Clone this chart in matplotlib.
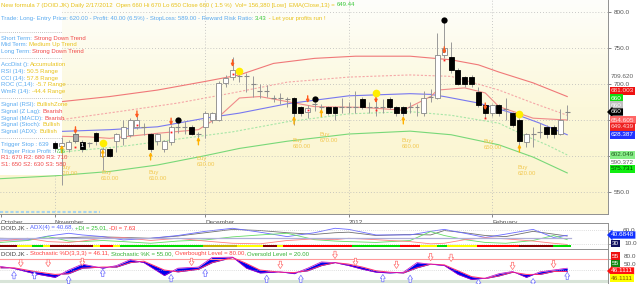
import numpy as np
import matplotlib
matplotlib.use('Agg')
import matplotlib.pyplot as plt
from matplotlib.patches import Rectangle
from matplotlib.colors import LinearSegmentedColormap
from matplotlib.font_manager import FontProperties

plt.rcParams['font.family'] = ['Liberation Sans', 'DejaVu Sans']

# ---------------- data ----------------
opens  = [618,614,609,620,619,618,631,600,609,620, 625,629,640,640,630,620,609,619,640,640,
          640,630,640,650,650,701,709,710,710,700, 690,690,680,680,678,680,667,660,672,667,
          667,667,667,667,667,679,667,667,667,679, 667,667,667,667,659,682,680,740,737,719,
          709,709,688,670,659,670,665,659,650,619, 630,633,640,640,630,660]
highs  = [621,626,622,633,622,619,633,612,611,632, 650,652,655,645,632,632,622,642,645,648,
          642,633,662,661,703,712,737,719,715,710, 700,698,684,687,682,682,669,670,675,672,
          669,669,680,675,690,681,675,680,678,681, 669,669,675,672,690,692,770,790,758,722,
          711,712,695,672,672,672,680,661,652,632, 640,645,642,642,665,670]
lows   = [605,559,605,617,605,612,615,580,598,605, 615,626,637,628,605,615,605,615,632,630,
          628,620,625,645,648,695,705,702,689,682, 680,682,675,672,668,642,655,652,662,655,
          657,650,659,659,659,665,659,655,659,665, 655,655,659,655,655,675,678,735,715,698,
          695,695,668,652,655,655,650,640,612,612, 612,625,625,625,628,650]
closes = [610,618,619,630,609,618,620,609,600,630, 640,650,650,640,609,630,620,640,640,640,
          630,630,659,659,701,708,719,710,710,700, 690,690,680,680,678,659,659,666,672,667,
          659,659,667,667,667,668,667,667,667,668, 659,659,667,667,680,682,740,750,719,700,
          700,700,670,659,670,659,665,642,620,630, 630,633,630,630,650,660]
candle_tags = {4: '1', 57: '3'}

month_pos = [-7.9, 0, 22, 43, 64]
month_labels = ['October', 'November', 'December', '2012', 'February']

red_outer_idx = [-8, 0, 8, 15, 22, 27, 32, 38, 44, 52, 58, 62, 65, 70, 75]
red_outer_val = [670, 674, 682, 691, 703, 712, 728, 735, 738, 738, 733, 726, 716, 701, 682]
red_inner_idx = [-8, 1, 10, 18, 26, 34, 43, 52, 58, 65, 70, 75]
red_inner_val = [648, 650, 662, 673, 687, 702, 709, 712, 710, 691, 673, 656]
green_inner_idx = [-8, 1, 10, 18, 26, 34, 43, 52, 58, 65, 69, 72, 75]
green_inner_val = [598, 605, 613, 623, 633, 647, 658, 661, 656, 645, 627, 615, 601]
green_outer_idx = [-8, 0, 8, 15, 22, 27, 34, 43, 52, 58, 65, 70, 75]
green_outer_val = [568, 572, 578, 587, 600, 610, 620, 630, 634, 629, 615, 598, 576]
mid_idx = [-1, 8, 15, 22, 27, 34, 43, 52, 55, 57, 62, 67, 71, 75]
mid_val = [633, 636, 640, 652, 659, 672, 683, 686, 685, 682, 673, 659, 645, 629]
ema_idx = [0, 5, 8, 15, 21, 24, 27, 30, 34, 38, 45, 51, 55, 56, 60, 63, 65, 70, 75]
ema_val = [627, 626, 624, 631, 636, 654, 680, 682, 675, 668, 667, 663, 682, 691, 694, 687, 668, 652, 649.44]

buy_idx = [1, 7, 14, 21, 35, 39, 51, 63, 68]
buy_price = ['620.00', '610.00', '610.00', '630.00', '660.00', '670.00', '660.00', '650.00', '620.00']
buy_y = [579, 573, 573, 592, 617, 625, 617, 615, 580]
up_arrow_idx = [1, 7, 14, 21, 35, 39, 51, 68]
up_arrow_tip = [615, 609, 605, 626, 655, 665, 655, 616]
dn_arrow_idx = [3, 12, 17, 26, 37, 47, 57, 63]
dn_arrow_top = [640, 662, 652, 733, 683, 683, 751, 673]
red_dot_price = [612, 643, 633, 713, 663, 663, 733, 652]
black_dot_idx = [18, 38, 57]
black_dot_price = [649, 679, 788]
yellow_dot_idx = [7, 27, 47, 68]
yellow_dot_price = [617, 718, 687, 658]

adx_idx = [-8,-4,-1,2,4,7,10,14,18,22,26,30,34,38,41,43,47,52,55,57,60,63,66,70,73,75]
adx_val = [24,24,38,48,42,36,24,30,40,55,66,52,36,50,66,62,42,42,55,62,48,33,45,62,33,40.68]
adx_gray = [30,28,30,32,34,35,33,30,38,50,62,58,50,44,50,52,40,44,42,58,50,40,36,55,45,38]
pdi_val = [15,22,36,20,18,22,18,12,20,24,35,42,48,25,20,18,15,22,54,40,25,15,12,22,40,25.01]
mdi_val = [20,30,18,15,20,30,33,22,30,20,12,10,22,28,25,30,25,18,10,12,25,32,28,20,12,7.63]
bar_edges = [-8,-5.6,-3.4,-1.8,-0.7,5.6,6.6,8.5,9.5,21.7,26.6,30.5,32.5,33.4,43.5,50.5,53.4,55.9,57.4,61.8,68,72.9,75.5]
bar_codes = ['dr','y','g','y','dr','y','r','y','g','o','y','dr','y','r','g','r','y','g','y','r','dr','g']

st_idx = [-8,-6,-3,0,2,4,7,9,11,13,16,18,21,23,26,28,30,33,35,37,39,41,43,45,47,49,51,53,55,57,59,61,63,65,67,69,71,73,75]
st_k = [60,54,40,30,50,66,55,62,78,70,35,55,58,84,85,55,42,45,40,55,72,70,62,52,44,42,44,70,66,62,38,24,28,40,46,30,45,50,55]
st_d = [56,56,46,38,40,55,58,58,70,74,50,45,52,70,84,68,50,44,43,48,62,70,66,58,48,44,42,56,66,64,48,32,27,34,44,38,38,46,46.11]
st_red_idx = [-5, -1, 4, 20, 33, 41, 44, 50, 55, 58, 67, 73]
st_red_val = [69, 69, 72, 72, 64, 91, 72, 64, 85, 83, 61, 66]
st_blue_idx = [-6, -3, 2, 7, 17, 22, 31, 36, 48, 52, 62, 70, 75]
st_blue_val = [36, 36, 23, 42, 28, 42, 26, 26, 28, 26, 15, 17, 34]

# ---------------- layout ----------------
W, H = 640, 284
fig = plt.figure(figsize=(6.4, 2.84), dpi=100)
fig.patch.set_facecolor('white')

def rect(top, bottom, left=0, right=608):
    return [left / W, 1 - bottom / H, (right - left) / W, (bottom - top) / H]

ax = fig.add_axes(rect(0, 214))
adx = fig.add_axes(rect(223, 248))
sto = fig.add_axes(rect(249, 284))
XL = (-8.05, 80.97)

BLUE = '#5aaaf0'; RED = '#f04848'; YEL = '#e8c21a'; GRN = '#3cc83c'; GRAYT = '#606060'
FS = 4.3

# main background gradient
cm = LinearSegmentedColormap.from_list('bg', ['#fefefb', '#fcf8da', '#fbf4cc'])
ax.imshow(np.linspace(0, 1, 256).reshape(-1, 1), cmap=cm, extent=[0, 1, 0, 1],
          transform=ax.transAxes, aspect='auto', zorder=0)

# grid
for p in [800, 750, 700, 650, 600, 550]:
    ax.axhline(p, color='#b8b8b8', lw=0.6, ls=(0, (1, 2.5)), zorder=1)
for m in month_pos[1:]:
    ax.axvline(m, color='#b8b8b8', lw=0.6, ls=(0, (1, 2.5)), zorder=1)

# bands
ax.plot(red_outer_idx, red_outer_val, color='#f07878', lw=0.8, zorder=2)
ax.plot(red_inner_idx, red_inner_val, color='#f5a8a8', lw=0.8, ls=(0, (2, 1.5)), zorder=2)
ax.plot(green_inner_idx, green_inner_val, color='#a8e6a8', lw=0.8, ls=(0, (2, 1.5)), zorder=2)
ax.plot(green_outer_idx, green_outer_val, color='#78d878', lw=0.8, zorder=2)
ax.plot(mid_idx, mid_val, color='#7878f0', lw=0.8, zorder=2)
ax.plot(ema_idx, ema_val, color='#f08a8a', lw=0.8, zorder=2)

# buy labels
for i, lab, y in zip(buy_idx, buy_price, buy_y):
    ax.text(i - 0.25, y, 'Buy\n' + lab, color='#f2c850', fontsize=FS, ha='left', va='center',
            linespacing=1.25, zorder=2.2)

# white info box
ax.add_patch(Rectangle((0, 1 - 175 / 214), 62 / 608, 175 / 214, transform=ax.transAxes,
                       fc='white', ec='none', zorder=2.5))

# candles
for i, (o, h, l, c) in enumerate(zip(opens, highs, lows, closes)):
    ax.vlines(i, l, h, color='#9a9a9a', lw=0.7, zorder=4)
    if c > o:
        ax.add_patch(Rectangle((i - 0.36, o), 0.72, c - o, fc='white', ec='#888888', lw=0.6, zorder=4.1))
    elif c < o:
        ax.add_patch(Rectangle((i - 0.36, c), 0.72, o - c, fc='black', ec='black', lw=0.6, zorder=4.1))
    else:
        ax.hlines(c, i - 0.36, i + 0.36, color='#888888', lw=0.8, zorder=4.1)
    if i == 3:
        ax.add_patch(Rectangle((i - 0.36, o), 0.72, c - o, fc='#a8a8a8', ec='#707070', lw=0.6, zorder=4.2))
for i, tag in candle_tags.items():
    ax.text(i, (opens[i] + closes[i]) / 2, tag, color='white' if closes[i] < opens[i] else 'black',
            fontsize=3.6, ha='center', va='center', zorder=4.3, fontweight='bold')

# markers
for i, tip in zip(up_arrow_idx, up_arrow_tip):
    ax.annotate('', xy=(i, tip), xytext=(i, tip - 11),
                arrowprops=dict(arrowstyle='-|>', color='#ffb000', lw=1.0, mutation_scale=4,
                                shrinkA=0, shrinkB=0), zorder=5)
for i, top in zip(dn_arrow_idx, dn_arrow_top):
    ax.annotate('', xy=(i, top - 10), xytext=(i, top),
                arrowprops=dict(arrowstyle='-|>', color='#ff5a1e', lw=1.0, mutation_scale=4,
                                shrinkA=0, shrinkB=0), zorder=5)
ax.plot(dn_arrow_idx, red_dot_price, 's', color='#ff2020', ms=1.3, mew=0, zorder=5)
ax.plot(black_dot_idx, black_dot_price, 'o', color='black', ms=4.5, mew=0, zorder=5)
ax.plot(yellow_dot_idx, yellow_dot_price, 'o', color='#ffee00', ms=5.5, mew=0, zorder=5)

ax.set_xlim(*XL)
ax.set_ylim(519, 816)
ax.yaxis.tick_right()
ax.set_yticks([550, 600, 650, 700, 750, 800])
ax.set_yticklabels(['550.0', '', '', '700.0', '750.0', '800.0'])
ax.set_xticks(month_pos)
ax.set_xticklabels(month_labels, ha='left')
ax.tick_params(axis='both', labelsize=4.6, colors='#555555', length=2.5, width=0.5, pad=1.5)
for s in ['top', 'left']:
    ax.spines[s].set_visible(False)
for s in ['right', 'bottom']:
    ax.spines[s].set_color('#909090'); ax.spines[s].set_linewidth(0.7)

# ---------------- ADX panel ----------------
adx.plot(adx_idx, adx_gray, color='#707070', lw=0.6)
adx.plot(adx_idx, adx_val, color='#6a6aff', lw=0.6)
adx.plot(adx_idx, pdi_val, color='#66dd66', lw=0.6)
adx.plot(adx_idx, mdi_val, color='#ff8080', lw=0.6)
adx.axhline(30, color='#b0b0d8', lw=0.9, xmax=(75.5 - XL[0]) / (XL[1] - XL[0]))
for lv in [60, 10]:
    adx.axhline(lv, color='#c0c0c0', lw=0.5, ls=(0, (1, 2)))
bar_colors = {'dr': '#8b0000', 'y': '#ffff00', 'g': '#00dd00', 'r': '#ff0000', 'o': '#c8b400'}
for a, b, code in zip(bar_edges[:-1], bar_edges[1:], bar_codes):
    adx.add_patch(Rectangle((a, -2), b - a, 6.5, fc=bar_colors[code], ec='none'))
adx.set_xlim(*XL); adx.set_ylim(-5, 85)
adx.yaxis.tick_right()
adx.set_yticks([60, 10]); adx.set_yticklabels(['', ''])
adx.set_xticks([])
adx.tick_params(axis='y', length=2, width=0.5, colors='#909090')
adx.spines['left'].set_visible(False); adx.spines['bottom'].set_visible(False)
for s in ['top', 'right']:
    adx.spines[s].set_color('#909090'); adx.spines[s].set_linewidth(0.7)

# ---------------- Stochastic panel ----------------
sto.axhline(80, color='#ff9a9a', lw=0.8)
sto.axhline(50, color='#c0c0c0', lw=0.5, ls=(0, (1, 2)))
sto.axhline(20, color='#d8e4d8', lw=2.2)
sto.fill_between(st_idx, st_k, st_d, color='#0000ee', lw=0)
sto.plot(st_idx, st_d, color='#ff3070', lw=0.7)
sto.plot(st_idx, st_k, color='#c000c0', lw=0.5)
astyle = 'simple,head_width=0.9,head_length=0.7,tail_width=0.4'
for i, v in zip(st_red_idx, st_red_val):
    sto.annotate('', xy=(i, v - 10), xytext=(i, v + 10),
                 arrowprops=dict(arrowstyle=astyle, mutation_scale=4,
                                 fc='white', ec='#ff7070', lw=0.5, shrinkA=0, shrinkB=0))
for i, v in zip(st_blue_idx, st_blue_val):
    sto.annotate('', xy=(i, v + 10), xytext=(i, v - 10),
                 arrowprops=dict(arrowstyle=astyle, mutation_scale=4,
                                 fc='white', ec='#7070ff', lw=0.5, shrinkA=0, shrinkB=0))
sto.set_xlim(*XL); sto.set_ylim(12, 107)
sto.yaxis.tick_right()
sto.set_yticks([80, 50]); sto.set_yticklabels(['', ''])
sto.set_xticks([])
sto.tick_params(axis='y', length=2, width=0.5, colors='#909090')
sto.spines['left'].set_visible(False); sto.spines['bottom'].set_visible(False)
for s in ['top', 'right']:
    sto.spines[s].set_color('#909090'); sto.spines[s].set_linewidth(0.7)

# ---------------- texts ----------------
renderer = fig.canvas.get_renderer()
prop = FontProperties(family=['Liberation Sans', 'DejaVu Sans'], size=FS)

def text_w(s):
    w1, _, _ = renderer.get_text_width_height_descent(s + 'l', prop, ismath=False)
    w2, _, _ = renderer.get_text_width_height_descent('l', prop, ismath=False)
    return w1 - w2

def rich(x, y, parts):
    for s, c in parts:
        fig.text(x / W, 1 - y / H, s, color=c, fontsize=FS, va='center', ha='left', zorder=10)
        x += text_w(s)

def row(k):
    return 5 + 6.65 * k

rich(1, row(0), [('New formula 7 (DOID.JK) Daily 2/17/2012  ', YEL),
                 ('Open 660 Hi 670 Lo 650 Close 660 ( 1.5 %)  ', YEL),
                 ('Vol= 156,380 [Low]  ', YEL), ('EMA(Close,13) = ', YEL), ('649.44', GRN)])
rich(1, row(2), [('Trade: Long- Entry Price: 620.00 - Profit: 40.00 (6.5%) - StopLoss: 589.00 - Reward Risk Ratio: ', BLUE),
                 ('3.43', GRN), (' - Let your profits run !', YEL)])
lines = {5: [('Short Term: ', BLUE), ('Strong Down Trend', RED)],
         6: [('Mid Term: ', BLUE), ('Medium Up Trend', YEL)],
         7: [('Long Term: ', BLUE), ('Strong Down Trend', RED)],
         9: [('AccDist (): ', BLUE), ('Accumulation', YEL)],
         10: [('RSI (14): ', BLUE), ('50.5 Range', YEL)],
         11: [('CCI (14): ', BLUE), ('57.8 Range', YEL)],
         12: [('ROC (C,14): ', BLUE), ('-5.7 Range', YEL)],
         13: [('WmR (14): ', BLUE), ('-44.4 Range', YEL)],
         15: [('Signal (RSI): ', BLUE), ('BullishZone', YEL)],
         16: [('Signal (Z Lag): ', BLUE), ('Bearish', RED)],
         17: [('Signal (MACD): ', BLUE), ('Bearish', RED)],
         18: [('Signal (Stoch): ', BLUE), ('Bullish', YEL)],
         19: [('Signal (ADX): ', BLUE), ('Bullish', YEL)],
         21: [('Trigger Stop : 639', BLUE)],
         22: [('Trigger Price Profit : ', BLUE), ('726', GRN)],
         23: [('R1: 670 R2: 680 R3: 710', RED)],
         24: [('S1: 650 S2: 630 S3: 580', RED)]}
for k, parts in lines.items():
    rich(1, row(k), parts)
for k in [4, 8, 14, 20]:
    fig.add_artist(plt.Line2D([0, 62 / W], [1 - row(k) / H] * 2, color='#b0b0b0', lw=0.6,
                              ls=(0, (1, 1.5)), transform=fig.transFigure))
fig.add_artist(plt.Line2D([0, 100 / W], [1 - 212 / H] * 2, color='#a8d4f0', lw=1.5,
                          ls=(0, (1.5, 1)), transform=fig.transFigure))

rich(1, 228, [('DOID.JK - ', '#404040'), ('ADX(4) = 40.68, ', '#5060ff'),
              ('+DI = 25.01, ', '#30c030'), ('-DI = 7.63', '#ff3030')])
rich(1, 254, [('DOID.JK - ', '#404040'), ('Stochastic %D(3,3,3) = 46.11, ', '#ff4040'),
              ('Stochastic %K = 55.00, ', '#30b030'), ('Overbought Level = 80.00, ', '#ff4040'),
              ('Oversold Level = 20.00', '#30b030')])

# right-side plain axis texts for lower panels
for s, x, y in [('60.0', 623, 231), ('10.0', 624, 243.5), ('80.0', 624, 257), ('50.0', 624, 264.5)]:
    fig.text(x / W, 1 - y / H, s, color='#555555', fontsize=4.6, va='center', ha='left')

# right-side value boxes
right_labels = [('709.620', 611, 77, None, GRAYT, 'square'),
                ('681.003', 611, 91, '#ee1111', '#ffd8d8', 'square'),
                ('660', 611, 98, '#11dd11', 'white', 'square'),
                ('660', 611, 105, '#c0c0c0', 'white', 'square'),
                ('660', 611, 112, 'black', 'white', 'larrow'),
                ('654.605', 611, 120, '#ff6666', '#ffe8e8', 'square'),
                ('649.439', 611, 127, '#ee2222', '#ffd8d8', 'square'),
                ('628.387', 611, 135, '#2233ff', 'white', 'square'),
                ('602.049', 611, 155, '#88ee88', '#206020', 'square'),
                ('590.372', 611, 162, None, GRAYT, 'square'),
                ('575.731', 611, 169, '#11ee11', '#004400', 'square'),
                ('40.6848', 611, 235, '#1030ff', 'white', 'larrow'),
                ('30', 612, 243.5, '#101060', 'white', 'square'),
                ('55', 612, 256, '#ee1111', 'white', 'square'),
                ('55', 612, 263.5, '#118811', 'white', 'square'),
                ('46.1111', 611, 271, '#ff1111', 'white', 'larrow'),
                ('46.1111', 611, 278, '#ffff00', '#806000', 'square')]
for s, x, y, bg, fg, style in right_labels:
    kw = dict(color=fg, fontsize=4.6, va='center', ha='left', zorder=20)
    if bg is not None:
        kw['bbox'] = dict(boxstyle=style + ',pad=0.18', fc=bg, ec='none')
    fig.text(x / W, 1 - y / H, s, **kw)

fig.savefig('out.png', dpi=100)
